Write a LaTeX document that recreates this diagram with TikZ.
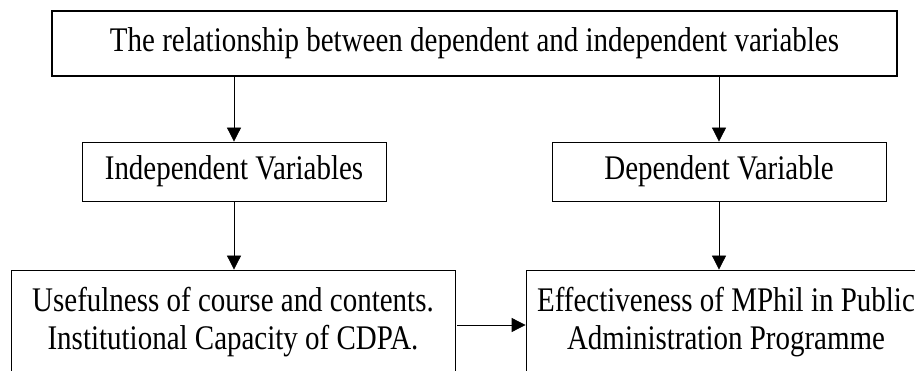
\documentclass[tikz,border=0pt]{standalone}
\usepackage{fontspec}
\setmainfont[FakeStretch=0.84]{Liberation Serif}
\usetikzlibrary{arrows.meta}

\begin{document}
\begin{tikzpicture}[x=1pt,y=-1pt,
  box/.style={draw,line width=0.8pt,inner sep=0pt,align=center,font=\fontsize{34.5}{38}\selectfont},
  arr/.style={draw,line width=0.8pt,-{Triangle[length=14pt,width=14pt]}}]
  \useasboundingbox (0,0) rectangle (915,371);
  \clip (0,0) rectangle (915,371);
  \node[box,line width=1.8pt,minimum width=845pt,minimum height=65pt] (rel) at (474.5,43.5)
    {The relationship between dependent and independent variables};
  \node[box,minimum width=304pt,minimum height=59pt] (ind) at (234,171.5) {Independent Variables};
  \node[box,minimum width=334pt,minimum height=59pt] (dep) at (719,171.5) {Dependent Variable};
  \node[box,minimum width=444pt,minimum height=104pt] (use) at (233,322)
    {Usefulness of course and contents.\\ Institutional Capacity of CDPA.};
  \node[box,minimum width=400pt,minimum height=104pt] (eff) at (726,322)
    {Effectiveness of MPhil in Public\\ Administration Programme};
  \draw[arr] (rel.south -| ind.north) -- (ind.north);
  \draw[arr] (rel.south -| dep.north) -- (dep.north);
  \draw[arr] (ind.south) -- (ind.south |- use.north);
  \draw[arr] (dep.south) -- (dep.south |- eff.north);
  \draw[arr] ([xshift=2pt,yshift=-3pt]use.east) -- ([yshift=-3pt]eff.west);
\end{tikzpicture}
\end{document}
